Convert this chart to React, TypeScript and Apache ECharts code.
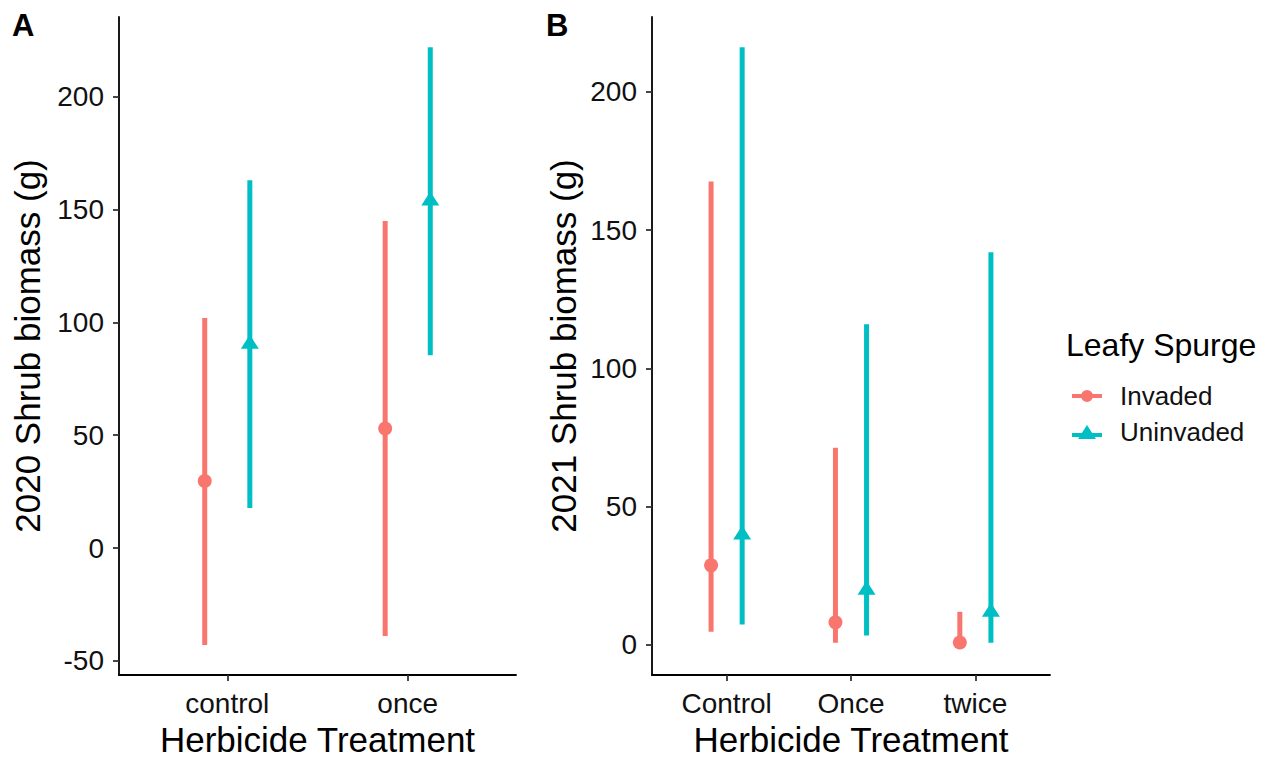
import React, { useEffect, useRef } from "react";
import * as echarts from "echarts";

// Panel A (2020)
const catsA = ["control", "once"];
const invMeanA = [29.7, 53];
const invLowA = [-43, -39];
const invHighA = [102, 145];
const uniMeanA = [90.5, 154];
const uniLowA = [17.7, 85.5];
const uniHighA = [163, 222];
const ticksA = [-50, 0, 50, 100, 150, 200];

// Panel B (2021)
const catsB = ["Control", "Once", "twice"];
const invMeanB = [28.8, 8.2, 0.9];
const invLowB = [4.8, 0.8, 0.5];
const invHighB = [167.6, 71.3, 12];
const uniMeanB = [40, 20, 12];
const uniLowB = [7.4, 3.4, 0.8];
const uniHighB = [216.2, 116, 142];
const ticksB = [0, 50, 100, 150, 200];

const RED = "#F8766D";
const TEAL = "#00BFC4";
const DODGE = 0.125;

const circleIcon =
  "path://M0,5 L30,5 L30,9 L0,9 Z M15,1 A6,6 0 1 1 15,13 A6,6 0 1 1 15,1 Z";
const triIcon = "path://M0,8 L30,8 L30,12 L0,12 Z M15,0 L24,14 L6,14 Z";

function errSeries(name: string, xAxisIndex: number, low: number[], high: number[], offset: number, color: string) {
  return {
    type: "custom",
    name: name + "-err",
    xAxisIndex,
    yAxisIndex: xAxisIndex,
    silent: true,
    encode: { x: 0, y: [1, 2] },
    data: low.map((l, i) => [i + 1 + offset, l, high[i]]),
    renderItem: (params: any, api: any) => {
      const x = api.value(0);
      const p1 = api.coord([x, api.value(1)]);
      const p2 = api.coord([x, api.value(2)]);
      return {
        type: "line",
        shape: { x1: p1[0], y1: p1[1], x2: p2[0], y2: p2[1] },
        style: { stroke: color, lineWidth: 5 },
      };
    },
    z: 2,
  };
}

function ptSeries(name: string, xAxisIndex: number, mean: number[], offset: number, color: string, tri: boolean) {
  return {
    type: "scatter",
    name,
    xAxisIndex,
    yAxisIndex: xAxisIndex,
    data: mean.map((m, i) => [i + 1 + offset, m]),
    symbol: tri ? "triangle" : "circle",
    symbolSize: tri ? [18, 14] : 14,
    symbolOffset: tri ? [0, -2] : [0, 0],
    itemStyle: { color, opacity: 1 },
    z: 3,
  };
}

function xAxis(gridIndex: number, cats: string[]) {
  const vals = cats.map((_, i) => i + 1);
  return {
    type: "value",
    gridIndex,
    min: 0.4,
    max: cats.length + 0.6,
    name: "Herbicide Treatment",
    nameLocation: "middle",
    nameGap: 46,
    nameTextStyle: { fontSize: 35, color: "#000", fontFamily: "Liberation Sans" },
    splitLine: { show: false },
    axisLine: { show: true, onZero: false, lineStyle: { color: "#000", width: 1.8 } },
    axisTick: { show: true, length: 6, customValues: vals, lineStyle: { color: "#333", width: 1.8 } },
    axisLabel: {
      customValues: vals,
      margin: 14,
      fontSize: 28,
      color: "#111",
      fontFamily: "Liberation Sans",
      formatter: (v: number) => cats[Math.round(v) - 1] ?? "",
    },
  };
}

function yAxis(gridIndex: number, min: number, max: number, ticks: number[], name: string, gap: number) {
  return {
    type: "value",
    gridIndex,
    min,
    max,
    name,
    nameLocation: "middle",
    nameRotate: 90,
    nameGap: gap,
    nameTextStyle: { fontSize: 35, color: "#000", fontFamily: "Liberation Sans" },
    splitLine: { show: false },
    axisLine: { show: true, onZero: false, lineStyle: { color: "#000", width: 1.8 } },
    axisTick: { show: true, length: 6, customValues: ticks, lineStyle: { color: "#333", width: 1.8 } },
    axisLabel: {
      customValues: ticks,
      margin: 15,
      fontSize: 28,
      color: "#111",
      fontFamily: "Liberation Sans",
    },
  };
}

export default function App() {
  const ref = useRef<HTMLDivElement>(null);
  useEffect(() => {
    if (!ref.current) return;
    const chart = echarts.init(ref.current, undefined, { renderer: "svg" });
    chart.setOption({
      animation: false,
      backgroundColor: "#fff",
      textStyle: { fontFamily: "Liberation Sans" },
      grid: [
        { left: 119, top: 17, width: 397, height: 658, outerBoundsMode: "none", containLabel: false },
        { left: 652, top: 17, width: 398, height: 658, outerBoundsMode: "none", containLabel: false },
      ],
      xAxis: [xAxis(0, catsA), xAxis(1, catsB)],
      yAxis: [
        yAxis(0, -56.3, 235.4, ticksA, "2020 Shrub biomass (g)", 74),
        yAxis(1, -10.85, 227.1, ticksB, "2021 Shrub biomass (g)", 71),
      ],
      legend: {
        orient: "vertical",
        left: 1067,
        top: 378,
        itemWidth: 30,
        itemHeight: 14,
        itemGap: 10,
        selectedMode: false,
        textStyle: { fontSize: 26, color: "#111", fontFamily: "Liberation Sans", padding: [0, 0, 0, 13] },
        data: [
          { name: "Invaded", icon: circleIcon },
          { name: "Uninvaded", icon: triIcon },
        ],
      },
      graphic: [
        { type: "text", left: 12, top: 10, style: { text: "A", font: "bold 31px 'Liberation Sans'", fill: "#000" } },
        { type: "text", left: 546, top: 10, style: { text: "B", font: "bold 31px 'Liberation Sans'", fill: "#000" } },
        { type: "text", left: 1066, top: 329, style: { text: "Leafy Spurge", font: "32px 'Liberation Sans'", fill: "#000" } },
      ],
      series: [
        errSeries("Invaded", 0, invLowA, invHighA, -DODGE, RED),
        errSeries("Uninvaded", 0, uniLowA, uniHighA, DODGE, TEAL),
        ptSeries("Invaded", 0, invMeanA, -DODGE, RED, false),
        ptSeries("Uninvaded", 0, uniMeanA, DODGE, TEAL, true),
        errSeries("Invaded", 1, invLowB, invHighB, -DODGE, RED),
        errSeries("Uninvaded", 1, uniLowB, uniHighB, DODGE, TEAL),
        ptSeries("Invaded", 1, invMeanB, -DODGE, RED, false),
        ptSeries("Uninvaded", 1, uniMeanB, DODGE, TEAL, true),
      ],
    });
    return () => chart.dispose();
  }, []);
  return (
    <div
      ref={ref}
      style={{ position: "fixed", left: 0, top: 0, width: 1272, height: 759, background: "#fff" }}
    />
  );
}
